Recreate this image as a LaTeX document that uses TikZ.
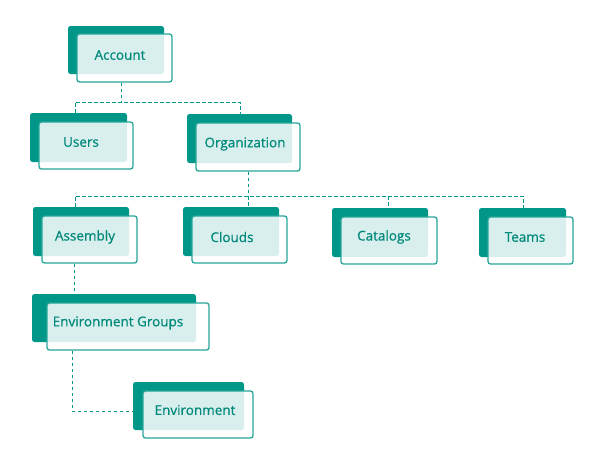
\documentclass[tikz,border=0pt]{standalone}
\usepackage{fontspec}
\setmainfont{Open Sans}
\newfontfamily\medfont{Open Sans}[FakeBold=0.7]
\definecolor{tealdark}{HTML}{009688}
\definecolor{tealline}{HTML}{26A69A}
\definecolor{tealtext}{HTML}{00897B}
\tikzset{
  backbox/.style={fill=tealdark, draw=none, rounded corners=2.5pt, inner sep=0pt},
  frontbox/.style={fill=white, fill opacity=0.85, draw=tealline, line width=1.3pt, rounded corners=2.5pt, inner sep=0pt},
  label/.style={text=tealtext, font=\medfont\fontsize{13.5}{15}\selectfont, inner sep=0pt},
  conn/.style={draw=tealdark, line width=0.9pt, dash pattern=on 3.5pt off 2.5pt}
}
\begin{document}
\begin{tikzpicture}[x=1pt, y=-1pt]
\useasboundingbox (0,0) rectangle (600,466);
% boxes
\node[backbox, minimum width=96, minimum height=48] (acc-b) at (116,50) {};
\node[frontbox, minimum width=95, minimum height=48] (acc-f) at (124.5,58) {};
\node[label] (acc) at (120,55) {Account};

\node[backbox, minimum width=97, minimum height=49] (usr-b) at (78.5,137.5) {};
\node[frontbox, minimum width=94, minimum height=47] (usr-f) at (86,145.5) {};
\node[label] (usr) at (81,142) {Users};

\node[backbox, minimum width=105, minimum height=49] (org-b) at (239.5,138.5) {};
\node[frontbox, minimum width=104, minimum height=48] (org-f) at (248,147) {};
\node[label] (org) at (245,144) {Organization};

\node[backbox, minimum width=96, minimum height=49] (asm-b) at (81,231.5) {};
\node[frontbox, minimum width=95, minimum height=47] (asm-f) at (89.5,239.5) {};
\node[label] (asm) at (85,237) {Assembly};

\node[backbox, minimum width=96, minimum height=49] (cld-b) at (231,231.5) {};
\node[frontbox, minimum width=95, minimum height=47] (cld-f) at (239.5,239.5) {};
\node[label] (cld) at (232,237) {Clouds};

\node[backbox, minimum width=96, minimum height=49] (cat-b) at (380,232.5) {};
\node[frontbox, minimum width=96, minimum height=47] (cat-f) at (389,240.5) {};
\node[label] (cat) at (384,237) {Catalogs};

\node[backbox, minimum width=87, minimum height=49] (tms-b) at (522.5,232.5) {};
\node[frontbox, minimum width=85, minimum height=47] (tms-f) at (530.5,240.5) {};
\node[label] (tms) at (525,237) {Teams};

\node[backbox, minimum width=164, minimum height=48] (eg-b) at (114,318) {};
\node[frontbox, minimum width=162, minimum height=47] (eg-f) at (128,326.5) {};
\node[label] (eg) at (118,323) {Environment Groups};

\node[backbox, minimum width=111, minimum height=48] (env-b) at (188.5,406) {};
\node[frontbox, minimum width=110, minimum height=47] (env-f) at (198,414.5) {};
\node[label] (env) at (195,410) {Environment};

% connectors
\coordinate (j1) at (121,102);
\draw[conn] (121,0 |- acc-f.south) -- (j1);
\draw[conn] (75,0 |- usr-b.north) -- (75,102) -- (240,102) -- (240,0 |- org-b.north);
\coordinate (j2) at (248,196);
\draw[conn] (248,0 |- org-f.south) -- (j2);
\draw[conn] (75,0 |- asm-b.north) -- (75,196) -- (523,196) -- (523,0 |- tms-b.north);
\draw[conn] (j2) -- (248,0 |- cld-b.north);
\draw[conn] (388,196) -- (388,0 |- cat-b.north);
\draw[conn] (74,0 |- asm-f.south) -- (74,0 |- eg-b.north);
\draw[conn] (72,0 |- eg-f.south) -- (72,411) -- (env-b.west |- 0,411);
\end{tikzpicture}
\end{document}
